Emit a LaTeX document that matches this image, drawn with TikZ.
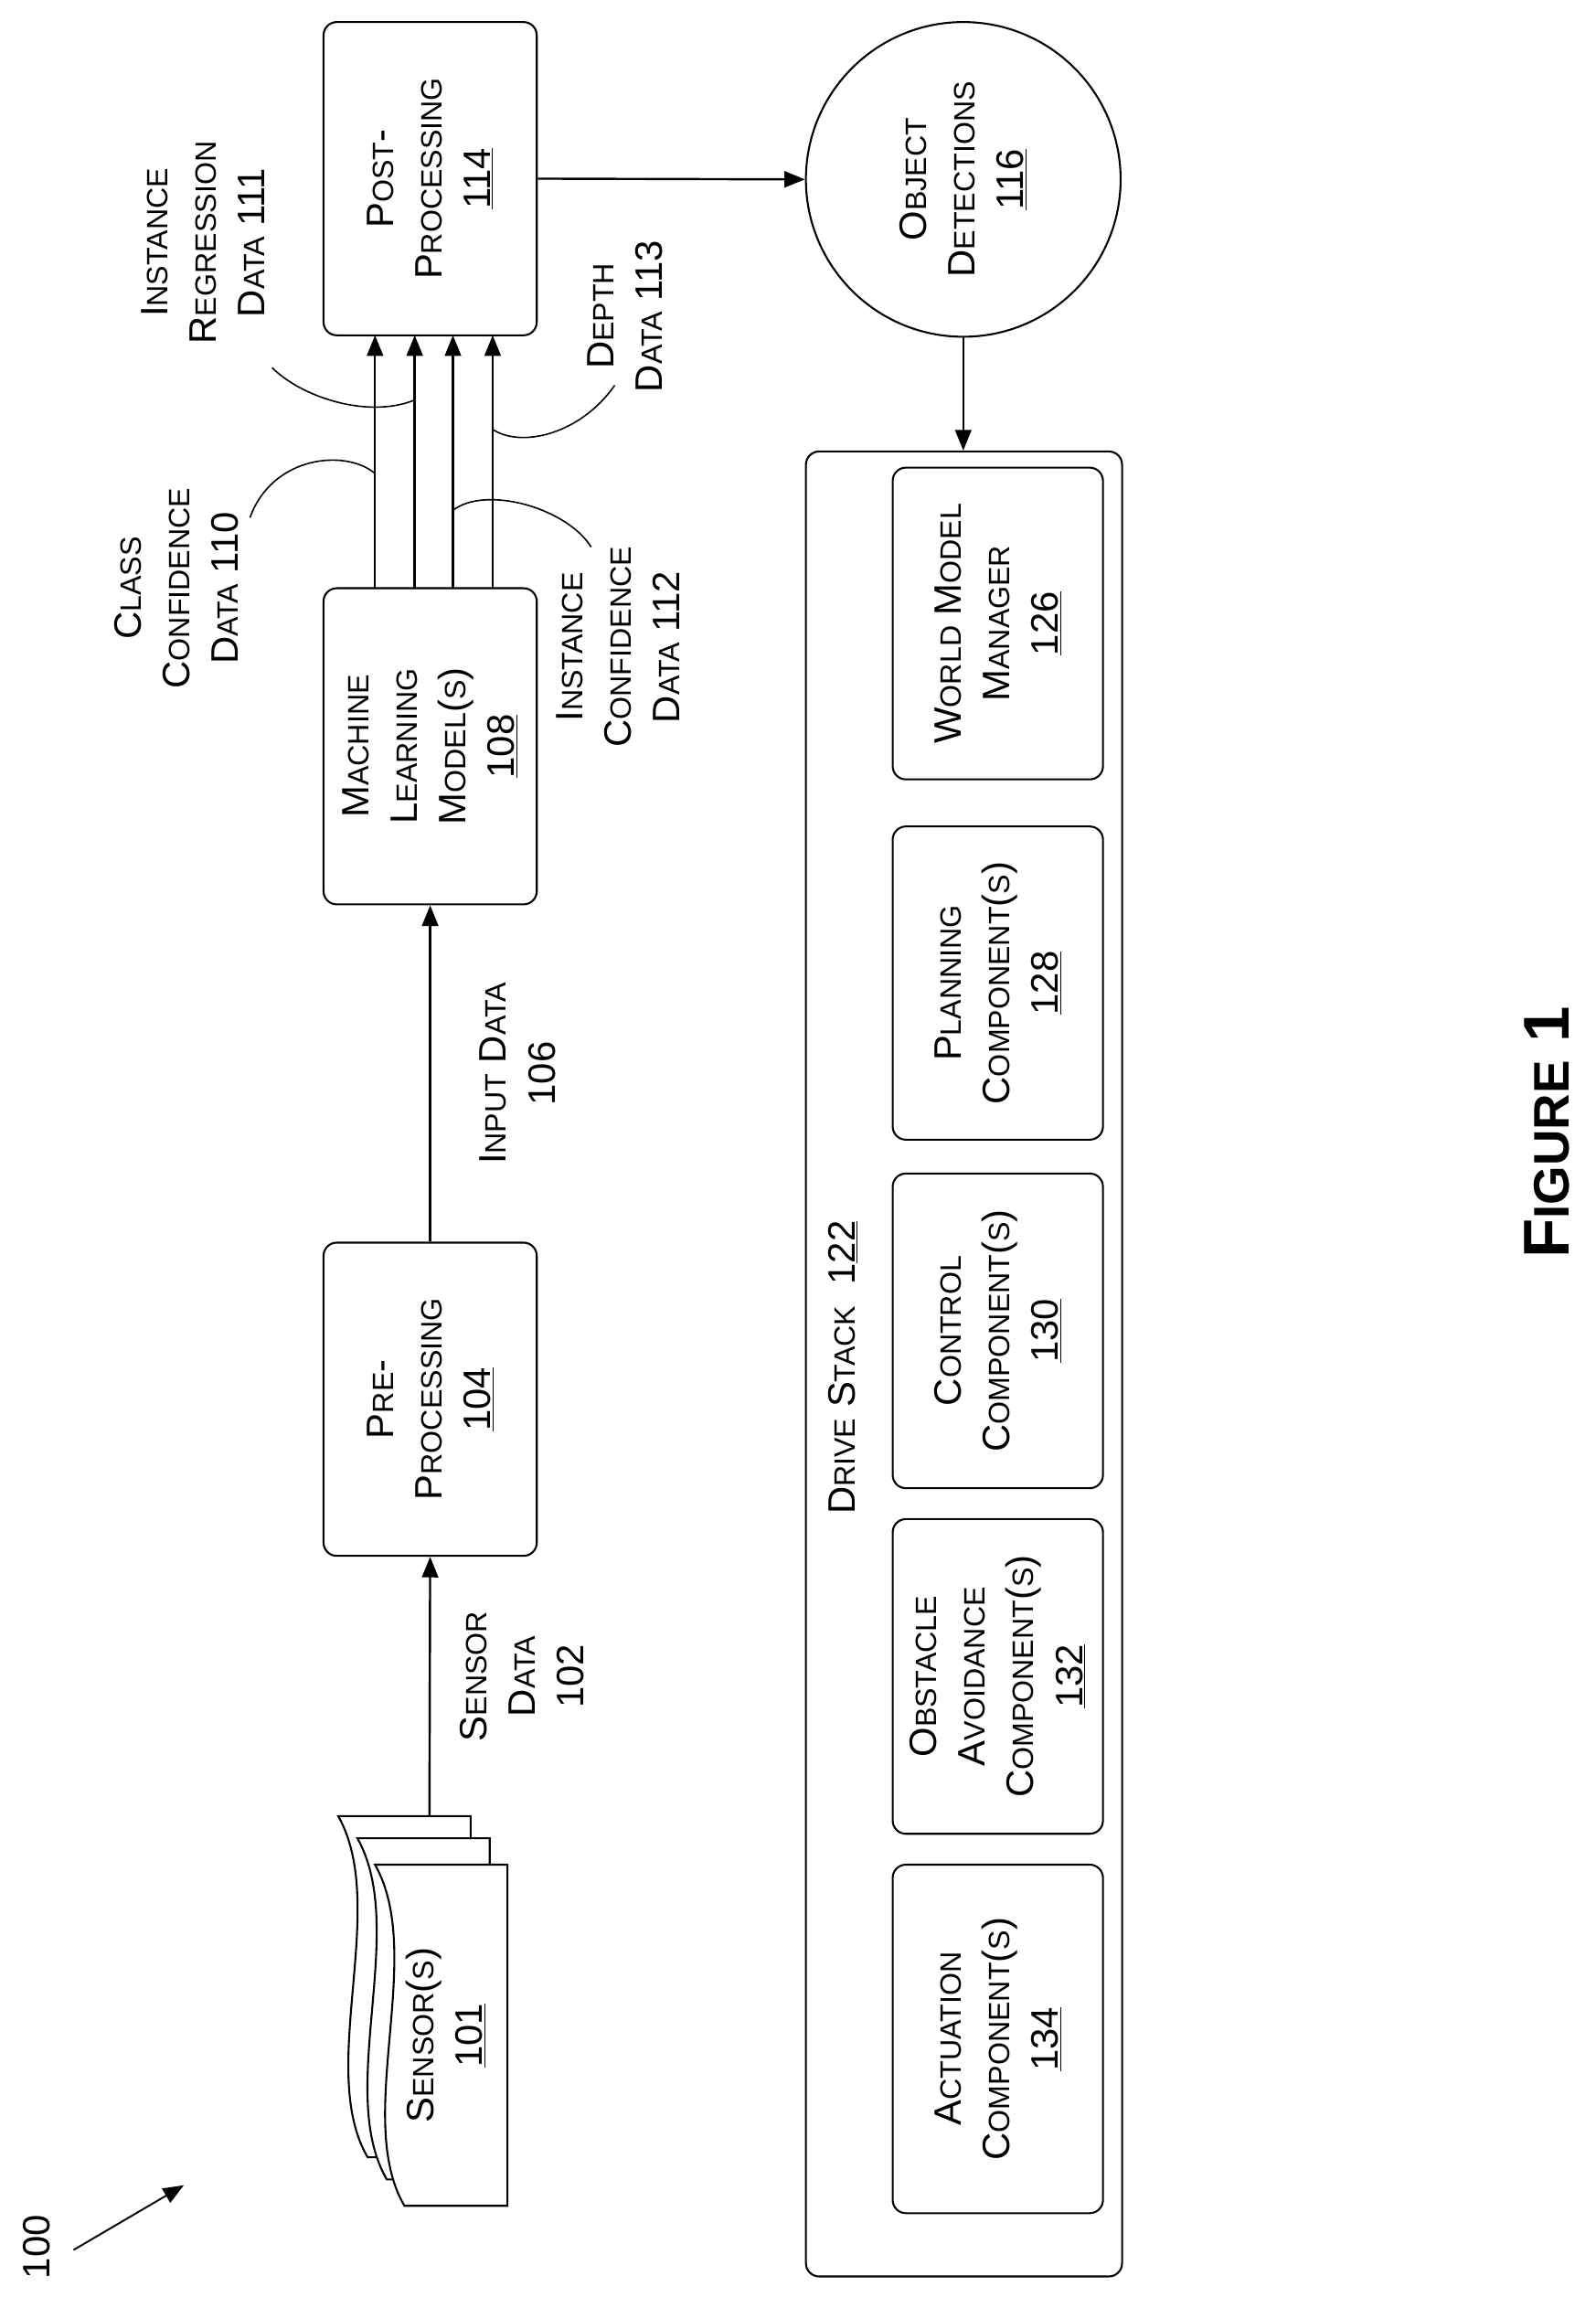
\documentclass[tikz,border=0pt]{standalone}
\usepackage{fontspec}
\setmainfont{Liberation Sans}
\usetikzlibrary{arrows.meta}
\newcommand\SC[2]{#1{\fontsize{20}{33}\selectfont #2}}
\begin{document}
\begin{tikzpicture}[x=1pt,y=-1pt,
  every node/.style={font=\fontsize{26}{33}\selectfont},
  box/.style={draw,line width=1.3pt,rounded corners=9pt,inner sep=0},
  lbl/.style={rotate=90,align=center,inner sep=0},
  arr/.style={line width=1.5pt,-{Triangle[length=14pt,width=11pt]}},
  lead/.style={line width=1pt}]
\useasboundingbox (0,0) rectangle (1085,1562);
% sensors
\foreach \dx/\dy in {-25/-33,-12/-18}{
 \draw[line width=1.3pt,fill=white] (345+\dx,1268+\dy) -- (345+\dx,1500+\dy) -- (275+\dx,1500+\dy)
   .. controls (240+\dx,1440+\dy) and (290+\dx,1330+\dy) .. (255+\dx,1268+\dy) -- cycle;}
\draw[line width=1.3pt,fill=white] (345,1268) -- (345,1500) -- (275,1500)
   .. controls (240,1440) and (290,1330) .. (255,1268) -- cycle;
\node[lbl] (sens) at (303,1384) {\SC{S}{ENSOR}(\SC{}{S})\\\underline{101}};
\coordinate (senstop) at (292,1235);
% boxes
\node[box,minimum width=145pt,minimum height=213pt] (pre) at (292.5,951.5) {};
\node[lbl] at (pre) {\SC{P}{RE}-\\\SC{P}{ROCESSING}\\\underline{104}};
\node[box,minimum width=145pt,minimum height=215pt] (ml) at (292.5,507.5) {};
\node[lbl] at (ml) {\SC{M}{ACHINE}\\\SC{L}{EARNING}\\\SC{M}{ODEL}(\SC{}{S})\\\underline{108}};
\node[box,minimum width=145pt,minimum height=213pt] (post) at (292.5,121.5) {};
\node[lbl] at (post) {\SC{P}{OST}-\\\SC{P}{ROCESSING}\\\underline{114}};
\node[circle,draw,line width=1.3pt,minimum size=214pt] (obj) at (655,122) {};
\node[lbl] at (obj) {\SC{O}{BJECT}\\\SC{D}{ETECTIONS}\\\underline{116}};
\node[box,minimum width=215pt,minimum height=1241pt] (drive) at (655.5,927.5) {};
\node[lbl,anchor=north] at (563,930) {\SC{D}{RIVE} \SC{S}{TACK}\ \ 1\underline{22}};
\foreach \n/\ya/\yb/\t in {wm/318/530/{\SC{W}{ORLD} \SC{M}{ODEL}\\\SC{M}{ANAGER}\\\underline{126}},
  pl/562/775/{\SC{P}{LANNING}\\\SC{C}{OMPONENT}(\SC{}{S})\\\underline{128}},
  co/798/1012/{\SC{C}{ONTROL}\\\SC{C}{OMPONENT}(\SC{}{S})\\\underline{130}},
  ob/1033/1247/{\SC{O}{BSTACLE}\\\SC{A}{VOIDANCE}\\\SC{C}{OMPONENT}(\SC{}{S})\\\underline{132}},
  ac/1268/1505/{\SC{A}{CTUATION}\\\SC{C}{OMPONENT}(\SC{}{S})\\\underline{134}}}{
 \node[box,minimum width=143pt,minimum height={\yb-\ya}] (\n) at (678.5,{(\ya+\yb)/2}) {};
 \node[lbl] at (\n) {\t};}
% arrows
\draw[arr] (senstop) -- (pre.south);
\node[lbl] at (355,1140) {\SC{S}{ENSOR}\\\SC{D}{ATA}\\102};
\draw[arr] (pre.north) -- (ml.south);
\node[lbl] at (352,730) {\SC{I}{NPUT} \SC{D}{ATA}\\106};
\foreach \x in {255,282,308,335}{
 \draw[arr] (\x,400) -- (\x,228);}
\draw[arr] (post.east) -- (obj.west);
\draw[arr] (obj.south) -- (drive.north -| obj.south);
% data labels
\node[lbl] at (120,400) {\SC{C}{LASS}\\\SC{C}{ONFIDENCE}\\\SC{D}{ATA} 110};
\draw[lead] (170,352) .. controls (185,310) and (235,305) .. (255,322);
\node[lbl] at (138,165) {\SC{I}{NSTANCE}\\\SC{R}{EGRESSION}\\\SC{D}{ATA} 111};
\draw[lead] (185,250) .. controls (205,270) and (250,285) .. (282,272);
\node[lbl] at (425,215) {\SC{D}{EPTH}\\\SC{D}{ATA} 113};
\draw[lead] (418,262) .. controls (395,295) and (355,305) .. (335,292);
\node[lbl] at (420,440) {\SC{I}{NSTANCE}\\\SC{C}{ONFIDENCE}\\\SC{D}{ATA} 112};
\draw[lead] (402,372) .. controls (385,345) and (330,330) .. (308,347);
% 100
\node[lbl] (h) at (25,1528) {100};
\draw[arr,line width=1.2pt] (50,1530) -- (125,1486);
\node[lbl,font=\bfseries\fontsize{44}{50}\selectfont] at (1052,770) {F{\fontsize{34}{40}\selectfont IGURE} 1};
\end{tikzpicture}
\end{document}
